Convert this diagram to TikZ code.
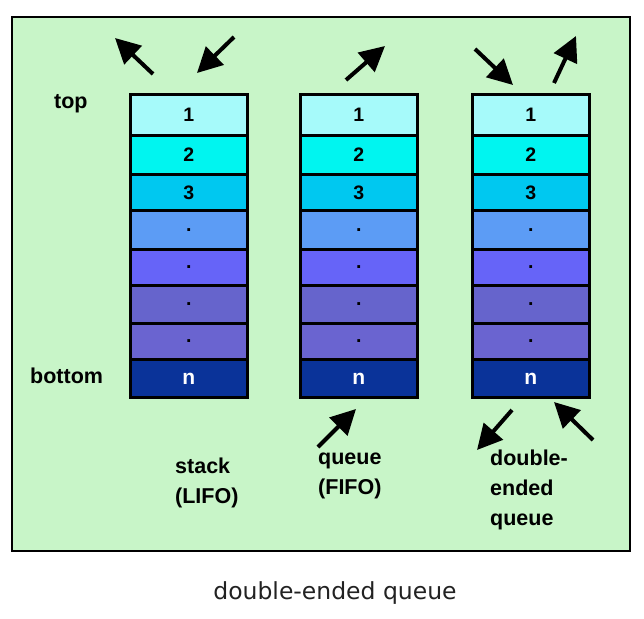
\documentclass[tikz,border=0pt]{standalone}
\usepackage{fontspec}
\setmainfont{Liberation Sans}
\newfontfamily\captfont{DejaVu Sans}
\usetikzlibrary{arrows.meta}
\definecolor{bgreen}{HTML}{C8F5C8}
\definecolor{cA}{HTML}{A6FAFA}
\definecolor{cB}{HTML}{00F5F0}
\definecolor{cC}{HTML}{00C8F0}
\definecolor{cD}{HTML}{5C9CF5}
\definecolor{cE}{HTML}{6664F8}
\definecolor{cF}{HTML}{6664CC}
\definecolor{cG}{HTML}{6A64D0}
\definecolor{cH}{HTML}{0A3399}
\definecolor{captgray}{HTML}{222222}
\tikzset{
  cell/.style={draw=black, line width=2.8pt, minimum width=117pt, inner sep=0pt, font=\bfseries\fontsize{19.5}{19.5}\selectfont},
  lbl/.style={font=\bfseries\fontsize{21.5}{30}\selectfont, align=left, inner sep=0pt},
  bigarrow/.style={line width=4pt, -{Triangle[length=25pt,width=25pt]}},
}
\begin{document}
\begin{tikzpicture}[x=1pt,y=-1pt]
\useasboundingbox (0,0) rectangle (644,618);
\fill[white] (0,0) rectangle (644,618);
\draw[line width=2pt, fill=bgreen] (12,17) rectangle (630,551);
% columns
\foreach \col/\x in {s/129, q/299, d/471}{
  \foreach \i/\ya/\yb/\c/\t in {1/93/134/cA/1, 2/134/173/cB/2, 3/173/209/cC/3, 4/209/248/cD/{.}, 5/248/284/cE/{.}, 6/284/322/cF/{.}, 7/322/358/cG/{.}}{
    \pgfmathsetmacro{\hh}{\yb-\ya}
    \node[cell, fill=\c, minimum height=\hh pt, anchor=north west] (\col\i) at (\x,\ya) {\t};
  }
  \node[cell, fill=cH, minimum height=38pt, anchor=north west, text=white, font=\bfseries\fontsize{21}{21}\selectfont\rmfamily] (\col8) at (\x,358) {n};
}
% labels
\node[lbl, anchor=west] (top) at (54,104) {top};
\node[lbl, anchor=west] (bottom) at (30,376) {bottom};
\node[lbl, anchor=north west] (stk) at (175,458) {stack\\(LIFO)};
\node[lbl, anchor=north west] (que) at (318,453) {queue\\(FIFO)};
\node[lbl, anchor=north west] (deq) at (490,450) {double-\\ended\\queue};
\node[font=\captfont\fontsize{23.5}{23.5}\selectfont, text=captgray, inner sep=0pt] (cap) at (335,593) {double-ended queue};
% arrow end points
\coordinate (a1s) at (153,74); \coordinate (a1e) at (115,38);
\coordinate (a2s) at (234,37); \coordinate (a2e) at (197,73);
\coordinate (a3s) at (346,80); \coordinate (a3e) at (385,46);
\coordinate (a4s) at (475,49); \coordinate (a4e) at (513,85);
\coordinate (a5s) at (554,83); \coordinate (a5e) at (576,36);
\coordinate (a6s) at (318,447); \coordinate (a6e) at (356,409);
\coordinate (a7s) at (512,410); \coordinate (a7e) at (477,450);
\coordinate (a8s) at (593,440); \coordinate (a8e) at (554,402);
\foreach \n in {1,...,8}{ \draw[bigarrow] (a\n s) -- (a\n e); }
\end{tikzpicture}
\end{document}
